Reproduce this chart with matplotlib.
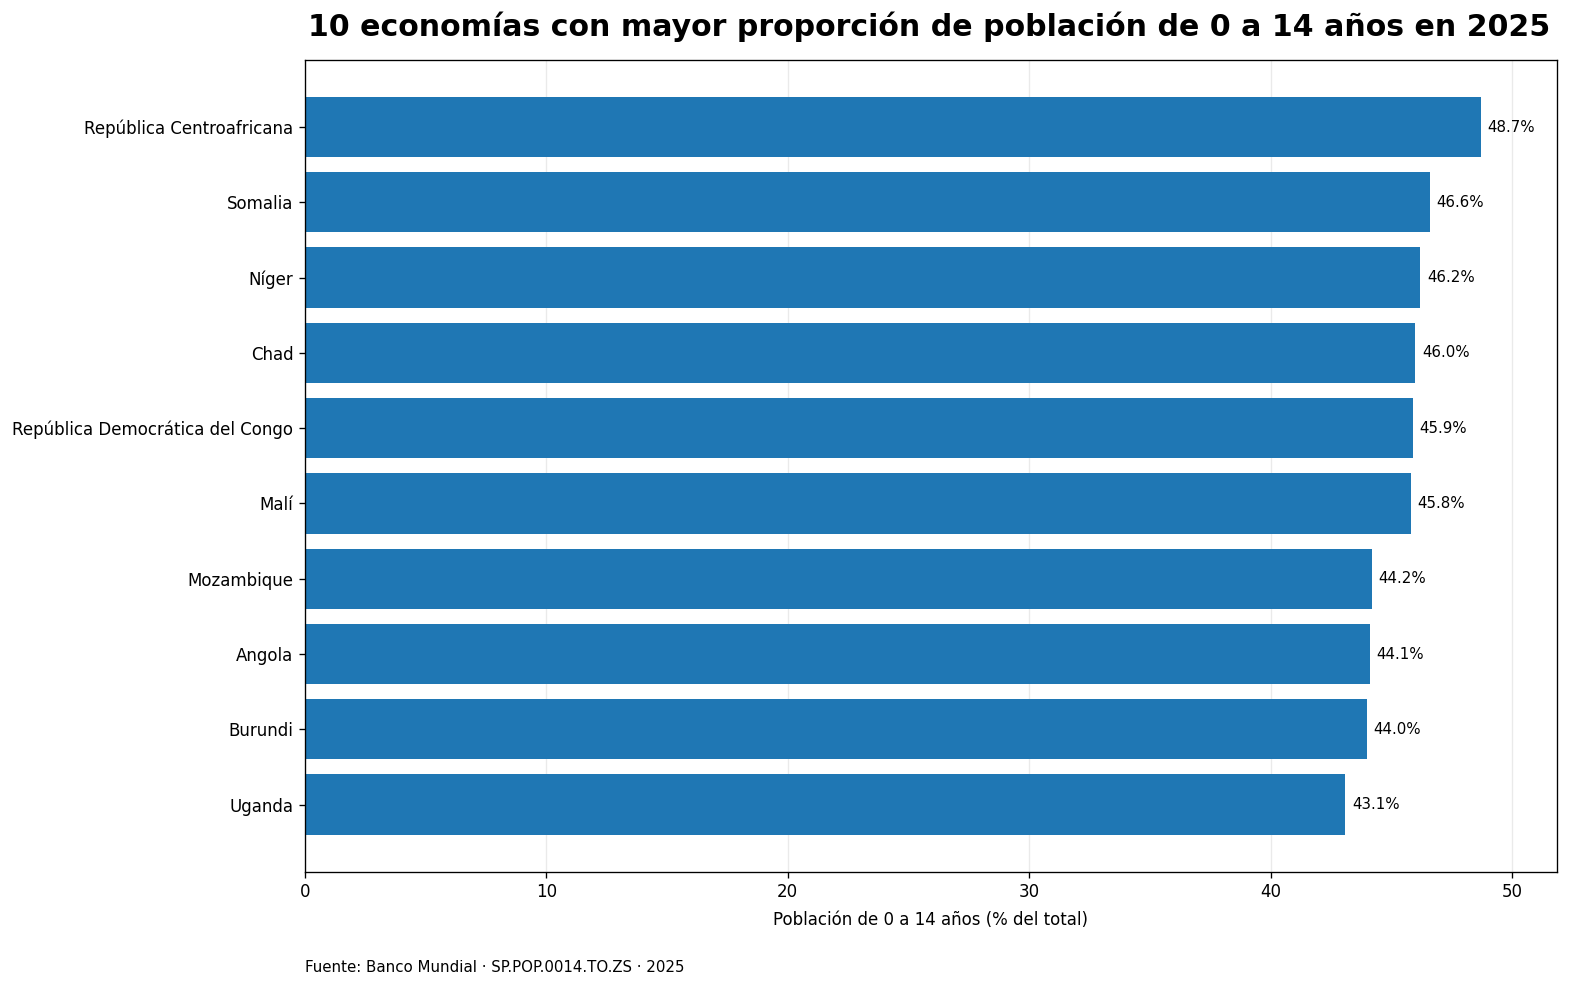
import matplotlib
matplotlib.use("Agg")
import matplotlib.pyplot as plt

countries = ["República Centroafricana", "Somalia", "Níger", "Chad",
             "República Democrática del Congo", "Malí", "Mozambique",
             "Angola", "Burundi", "Uganda"]
values = [48.7, 46.6, 46.2, 46.0, 45.9, 45.8, 44.2, 44.1, 44.0, 43.1]

title = "10 economías con mayor proporción de población de 0 a 14 años en 2025"
xlabel = "Población de 0 a 14 años (% del total)"
source = "Fuente: Banco Mundial · SP.POP.0014.TO.ZS · 2025"

plt.rcParams['font.family'] = ['DejaVu Sans']

DPI = 120
fig = plt.figure(figsize=(1571 / DPI, 989 / DPI), dpi=DPI)
ax = fig.add_axes([0.1941, 0.1187, 0.797, 0.8206])

ypos = list(range(len(countries)))
ax.barh(ypos, values, height=0.8, color="#1f77b4", zorder=2)
ax.set_yticks(ypos)
ax.set_yticklabels(countries, fontsize=10)
ax.invert_yaxis()
ax.set_xlim(0, max(values) * 1.065)
ax.tick_params(axis='x', labelsize=10)
ax.grid(axis='x', color='#dddddd', alpha=0.6, linewidth=0.8, zorder=0)
ax.set_axisbelow(True)
ax.set_xlabel(xlabel, fontsize=10, labelpad=6)

for y, v in zip(ypos, values):
    ax.annotate(f"{v:.1f}%", xy=(v, y), xytext=(4, 0), textcoords="offset points",
                ha="left", va="center", fontsize=9)

fig.text(0.5917, 0.973, title, ha="center", va="center", fontsize=18,
         fontweight="bold")
fig.text(0.1941, 0.022, source, ha="left", va="center", fontsize=9)

fig.savefig("out.png", dpi=DPI)
